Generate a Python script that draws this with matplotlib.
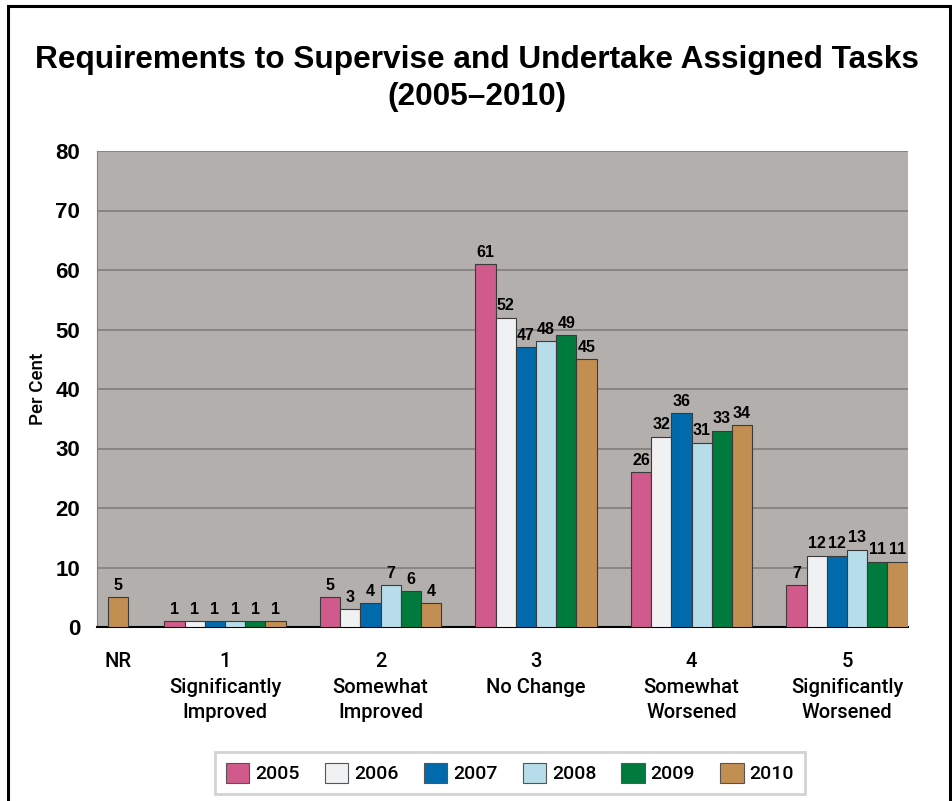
import matplotlib.pyplot as plt
import matplotlib.patches as mpatches
import numpy as np

years = ['2005', '2006', '2007', '2008', '2009', '2010']
colors = ['#cf5a8b', '#f0f1f3', '#006aad', '#b7dcea', '#007a3d', '#c28e52']
categories = ['1\nSignificantly\nImproved', '2\nSomewhat\nImproved', '3\nNo Change',
              '4\nSomewhat\nWorsened', '5\nSignificantly\nWorsened']
values = {
    '2005': [1, 5, 61, 26, 7],
    '2006': [1, 3, 52, 32, 12],
    '2007': [1, 4, 47, 36, 12],
    '2008': [1, 7, 48, 31, 13],
    '2009': [1, 6, 49, 33, 11],
    '2010': [1, 4, 45, 34, 11],
}
nr_label = 'NR'
nr_value = 5  # only 2010 has an NR response

cond = ['Roboto', 'DejaVu Sans']
bold = ['Liberation Sans', 'DejaVu Sans']

fig = plt.figure(figsize=(9.53, 8.01), dpi=100)
ax = fig.add_axes([97 / 953, 1 - 627 / 801, (908 - 97) / 953, (627 - 151) / 801])

# frame around the whole chart
fig.add_artist(mpatches.Rectangle((8 / 953, -0.01), (950 - 8) / 953, 1.01 - 6 / 801,
                                  transform=fig.transFigure, fill=False,
                                  edgecolor='black', linewidth=2.2))

ax.set_facecolor('#b3afac')
width = 0.13
x = np.arange(1, len(categories) + 1)
nr_x = 0.31

for i, yr in enumerate(years):
    pos = x + (i - 2.5) * width
    bars = ax.bar(pos, values[yr], width, color=colors[i], edgecolor='#3a3a3a',
                  linewidth=0.8, zorder=3, label=yr)
    for b, v in zip(bars, values[yr]):
        ax.text(b.get_x() + b.get_width() / 2, v + 0.7, str(v), ha='center', va='bottom',
                fontsize=11.5, fontweight='bold', family=bold, zorder=4)

ax.bar([nr_x], [nr_value], width, color=colors[5], edgecolor='#3a3a3a',
       linewidth=0.8, zorder=3)
ax.text(nr_x, nr_value + 0.7, str(nr_value), ha='center', va='bottom',
        fontsize=11.5, fontweight='bold', family=bold, zorder=4)

ax.set_xlim(0.177, 5.392)
ax.set_ylim(0, 80)
ax.set_yticks(range(0, 81, 10))
ax.set_yticklabels([str(v) for v in range(0, 81, 10)], fontsize=16,
                   fontweight='bold', family=bold)
ax.yaxis.grid(True, color='#807d7b', linewidth=1.2, zorder=1)
ax.tick_params(axis='y', length=0, pad=12)
ax.tick_params(axis='x', length=0, pad=18)

ax.set_xticks([nr_x] + list(x))
ax.set_xticklabels([nr_label] + categories, fontsize=14.5, family=cond,
                   linespacing=1.45, va='top')
for lbl in ax.get_xticklabels():
    lbl.set_fontweight('medium')

for s in ['top', 'right']:
    ax.spines[s].set_visible(False)
ax.spines['left'].set_color('#807d7b')
ax.spines['bottom'].set_color('black')
ax.spines['bottom'].set_linewidth(1.5)

ax.set_ylabel('Per Cent', fontsize=13.5, family=cond, fontweight='medium', labelpad=6)

fig.text(0.5, 1 - 60 / 801, 'Requirements to Supervise and Undertake Assigned Tasks',
         ha='center', va='center', fontsize=22.8, fontweight='bold', family=bold)
fig.text(0.5, 1 - 97 / 801, '(2005\u20132010)', ha='center', va='center',
         fontsize=22.8, fontweight='bold', family=bold)

handles = [mpatches.Patch(facecolor=c, edgecolor='#555555', linewidth=0.8) for c in colors]
leg = fig.legend(handles, years, loc='center', bbox_to_anchor=(510 / 953, 1 - 773 / 801),
                 ncol=6, frameon=True, fancybox=False, handlelength=1.2, handleheight=1.2,
                 handletextpad=0.3, columnspacing=1.3, borderpad=0.55,
                 prop={'family': cond, 'size': 14, 'weight': 'medium'})
leg.get_frame().set_edgecolor('#c8c8c8')
leg.get_frame().set_linewidth(2)

fig.savefig('out.png', dpi=100)
